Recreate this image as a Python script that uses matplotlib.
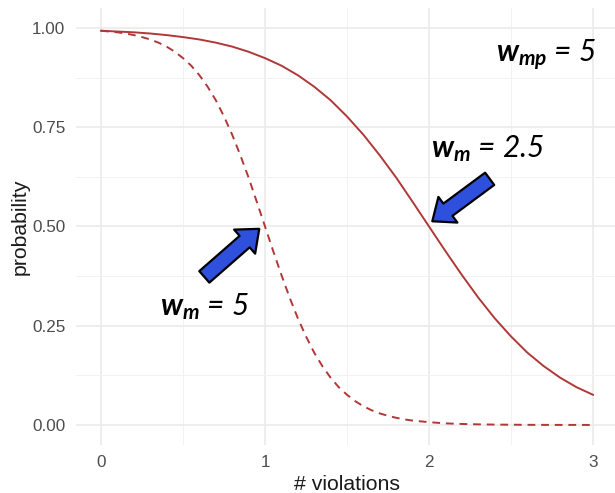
import matplotlib
matplotlib.use("Agg")
import matplotlib.pyplot as plt
from matplotlib.patches import FancyArrowPatch
from matplotlib.ticker import MultipleLocator

# values
x_wm_2_5 = [0.0, 0.1, 0.2, 0.3, 0.4, 0.5, 0.6, 0.7, 0.8, 0.9, 1.0,
            1.1, 1.2, 1.3, 1.4, 1.5, 1.6, 1.7, 1.8, 1.9, 2.0,
            2.1, 2.2, 2.3, 2.4, 2.5, 2.6, 2.7, 2.8, 2.9, 3.0]
prob_wm_2_5 = [0.993, 0.991, 0.989, 0.986, 0.982, 0.977, 0.971, 0.963, 0.953, 0.940, 0.924,
               0.905, 0.881, 0.852, 0.818, 0.777, 0.731, 0.679, 0.623, 0.562, 0.500,
               0.438, 0.378, 0.321, 0.269, 0.223, 0.182, 0.148, 0.119, 0.095, 0.076]

x_wm_5 = [0.0, 0.05, 0.1, 0.15, 0.2, 0.25, 0.3, 0.35, 0.4, 0.45, 0.5,
          0.55, 0.6, 0.65, 0.7, 0.75, 0.8, 0.85, 0.9, 0.95, 1.0,
          1.05, 1.1, 1.15, 1.2, 1.25, 1.3, 1.35, 1.4, 1.45, 1.5,
          1.55, 1.6, 1.65, 1.7, 1.75, 1.8, 1.85, 1.9, 1.95, 2.0,
          2.1, 2.2, 2.3, 2.4, 2.5, 2.6, 2.7, 2.8, 2.9, 3.0]
prob_wm_5 = [0.993, 0.991, 0.989, 0.986, 0.982, 0.977, 0.971, 0.963, 0.953, 0.940, 0.924,
             0.905, 0.881, 0.852, 0.818, 0.777, 0.731, 0.679, 0.623, 0.562, 0.500,
             0.438, 0.378, 0.321, 0.269, 0.223, 0.182, 0.148, 0.119, 0.095, 0.076,
             0.060, 0.047, 0.037, 0.029, 0.023, 0.018, 0.014, 0.011, 0.009, 0.007,
             0.004, 0.0025, 0.0015, 0.0009, 0.0006, 0.0003, 0.0002, 0.0001, 0.0001, 0.0]

x_ticks = [0, 1, 2, 3]
y_ticks = [0.0, 0.25, 0.5, 0.75, 1.0]
y_tick_labels = ["0.00", "0.25", "0.50", "0.75", "1.00"]

label_mp = r"$\mathbf{w_{mp}}$ = 5"
label_m25 = r"$\mathbf{w_m}$ = 2.5"
label_m5 = r"$\mathbf{w_m}$ = 5"

plt.rcParams["font.family"] = ["Liberation Sans", "DejaVu Sans"]
plt.rcParams["mathtext.fontset"] = "custom"
plt.rcParams["mathtext.bf"] = "Lato:italic:bold"
plt.rcParams["mathtext.it"] = "Lato:italic"
plt.rcParams["mathtext.rm"] = "Lato:italic"

line_color = "#B03838"
arrow_color = "#2F50DC"

fig = plt.figure(figsize=(6.15, 4.93), dpi=100)
ax = fig.add_axes([76.4 / 615, 48.2 / 493, 541.2 / 615, 436.7 / 493])

ax.plot(x_wm_2_5, prob_wm_2_5, color=line_color, lw=1.4)
ax.plot(x_wm_5, prob_wm_5, color=line_color, lw=1.4, dashes=(4, 3))

ax.set_xlim(-0.15, 3.15)
ax.set_ylim(-0.05, 1.05)
ax.set_xticks(x_ticks)
ax.set_yticks(y_ticks)
ax.set_yticklabels(y_tick_labels)
ax.xaxis.set_minor_locator(MultipleLocator(0.5))
ax.yaxis.set_minor_locator(MultipleLocator(0.125))

ax.grid(which="major", color="#EBEBEB", lw=1.2)
ax.grid(which="minor", color="#F2F2F2", lw=0.7)
ax.set_axisbelow(True)
for s in ax.spines.values():
    s.set_visible(False)
ax.tick_params(which="both", length=0, labelsize=12.3, labelcolor="#4D4D4D")
ax.tick_params(axis="y", pad=8)
ax.tick_params(axis="x", pad=7)

ax.set_xlabel("# violations", fontsize=15.3, color="#1A1A1A", labelpad=4)
ax.set_ylabel("probability", fontsize=15.3, color="#1A1A1A", labelpad=2)

text_kw = dict(fontsize=21.5, family="Lato", style="italic", color="black", va="baseline")
ax.text(3.02, 0.914, label_mp, ha="right", **text_kw)
ax.text(2.01, 0.675, label_m25, ha="left", **text_kw)
ax.text(0.36, 0.277, label_m5, ha="left", **text_kw)

arrows = [((2.37, 0.62), (2.02, 0.513)), ((0.63, 0.373), (0.965, 0.494))]
for tail, head in arrows:
    ax.add_patch(FancyArrowPatch(
        tail, head,
        arrowstyle="simple,head_length=1.4,head_width=2.3,tail_width=1.1",
        mutation_scale=10, facecolor=arrow_color, edgecolor="black", lw=1.6,
        shrinkA=0, shrinkB=0, zorder=5))

fig.savefig("out.png", dpi=100)
